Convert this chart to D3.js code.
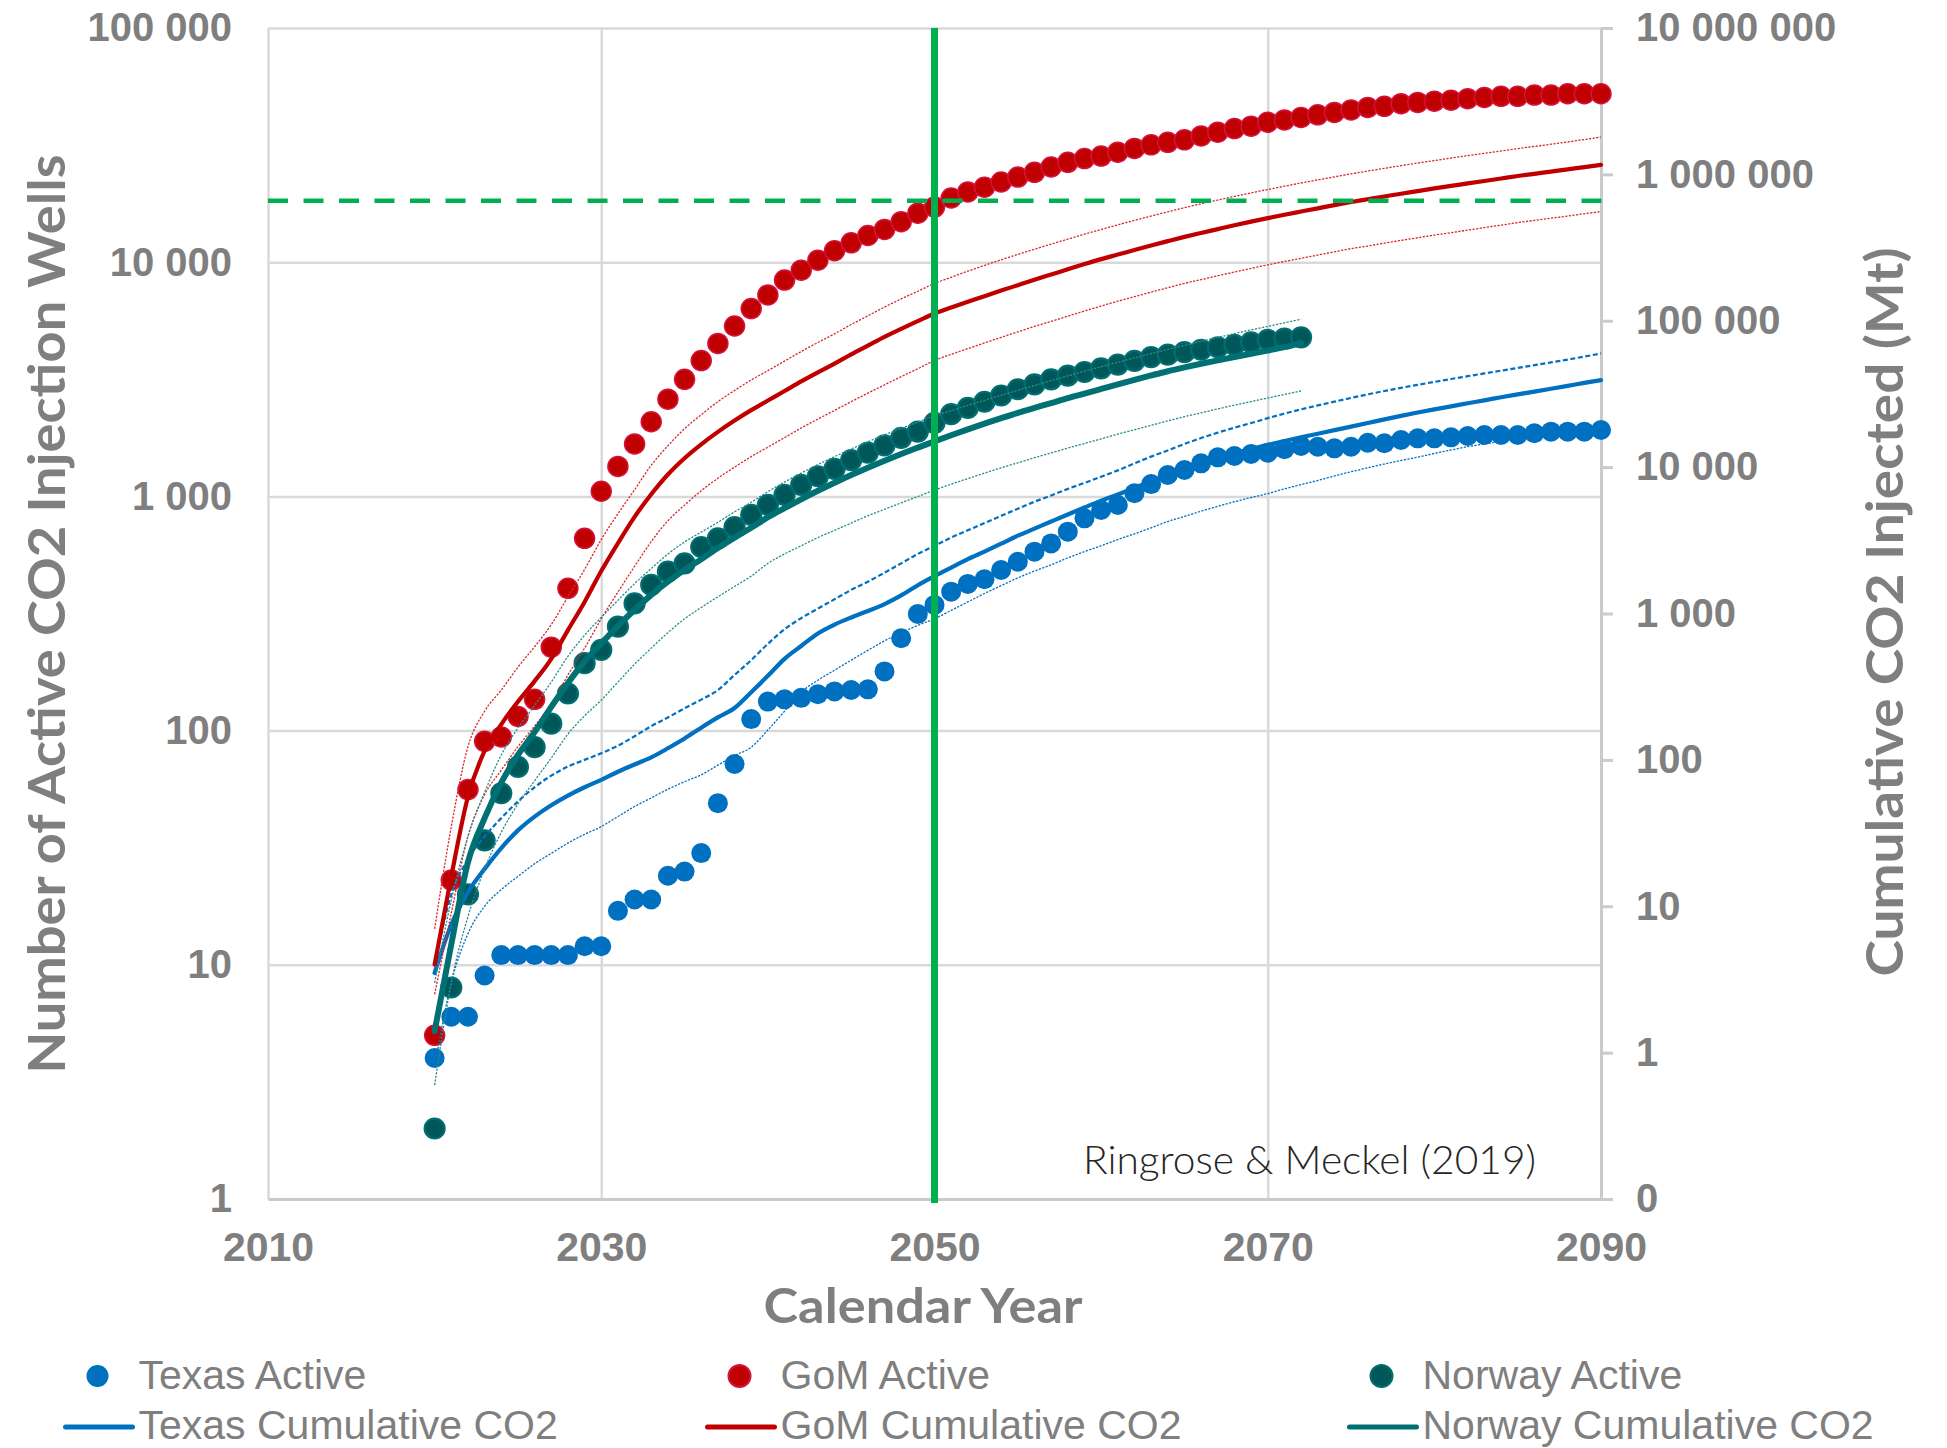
<!DOCTYPE html>
<html><head><meta charset="utf-8">
<script src="https://cdn.jsdelivr.net/npm/d3@7"></script>
<style>
html,body{margin:0;padding:0;background:#fff;overflow:hidden;}
svg{display:block;}
</style></head>
<body>
<svg id="chart" width="1947" height="1448"></svg>
<script>
// ---------------- DATA ----------------
const years = [2020,2021,2022,2023,2024,2025,2026,2027,2028,2029,2030,2031,2032,2033,2034,2035,2036,2037,2038,2039,2040,
2041,2042,2043,2044,2045,2046,2047,2048,2049,2050,2051,2052,2053,2054,2055,2056,2057,2058,2059,2060,
2061,2062,2063,2064,2065,2066,2067,2068,2069,2070,2071,2072,2073,2074,2075,2076,2077,2078,2079,2080,
2081,2082,2083,2084,2085,2086,2087,2088,2089,2090];
const norwayYears = years.slice(0, 53); // 2020-2072

// Active wells (left axis)
const texasActive = [4,6,6,9,11,11,11,11,11,12,12,17,19,19,24,25,30,49,72,112,133,136,138,143,147,149,150,179,248,315,344,
392,423,443,485,526,581,630,707,806,875,919,1031,1129,1234,1297,1384,1468,1488,1517,1537,1590,1643,1630,1604,1630,1695,1686,1741,1770,1770,
1787,1811,1829,1829,1829,1860,1890,1890,1890,1920];
const gomActive = [5,23,56,90,94,115,136,227,405,662,1052,1343,1675,2083,2600,3160,3800,4500,5340,6340,7250,
8390,9250,10200,11200,12100,13000,13800,14900,16200,17200,18800,19950,20900,22000,23100,24200,25500,26700,27700,28400,
29500,30600,31700,32500,33300,34600,35900,37200,38100,39600,40500,41500,42600,43600,44700,45800,46300,47500,48100,48700,
49200,49900,50500,51100,51100,51700,51700,52400,52400,52400];
const norwayActive = [2,8,20,34,54,70,85,107,144,194,221,278,349,419,477,518,608,662,739,834,920,
1015,1119,1219,1312,1429,1537,1652,1779,1891,2060,2244,2387,2536,2697,2867,3009,3160,3277,3397,3524,
3655,3791,3933,4029,4128,4229,4333,4439,4548,4660,4720,4780];

// Cumulative CO2 injected, Mt (right axis)
const texasCum = [3.5,7.5,12.5,18,25,33,41,49,57,65,73,83,93,104,120,140,166,195,226,290,375,
490,600,730,840,940,1040,1160,1330,1560,1800,2060,2350,2650,3000,3400,3800,4250,4750,5300,5900,
6500,7200,8000,8800,9700,10600,11500,12400,13300,14200,15100,16000,16900,17900,18900,20000,21200,22400,23600,24800,
26000,27300,28600,30000,31400,32800,34300,35900,37600,39300];
const texasCumHigh = [4,12,21,30,40,52,65,78,90,100,111,125,145,170,195,225,258,300,380,480,620,
780,930,1080,1250,1450,1650,1900,2200,2550,2900,3300,3700,4150,4650,5200,5800,6400,7100,7800,8600,
9500,10600,11800,13000,14400,15800,17200,18600,20000,21600,23200,24800,26400,28000,29700,31400,33100,34800,36500,38200,
40000,41800,43700,45600,47600,49700,51900,54300,56900,59800];
const texasCumLow = [0.8,3,6.5,10,13,16,19.5,23,27,31,35,41,48,55,63,71,79,92,107,122,160,
215,290,350,410,480,560,650,740,830,920,1050,1200,1370,1550,1750,1950,2150,2400,2650,2900,
3200,3500,3850,4250,4600,5000,5400,5800,6200,6600,7100,7600,8100,8700,9300,9900,10500,11100,11700,12400,
13100,13800,14400,15000,15600,16200,16800,17300,17900,18400];

const gomCum = [4,16,56,115,175,250,345,490,770,1200,1950,3020,4570,6530,8910,11500,14300,17400,20800,24500,28500,
33100,38500,44400,50900,58900,67600,77600,88100,99500,112200,123000,134900,147200,160700,175000,190500,207000,224900,243800,263600,
283100,304100,326600,349900,374100,398100,422700,448700,475300,502300,529700,557200,586100,616600,647100,676100,706300,737900,769100,801700,
833700,867000,901600,937600,975000,1009000,1045000,1081000,1122000,1161000];
const gomCumHigh = [7,35,123,215,300,430,593,840,1300,2000,3200,4800,7000,10300,14000,18300,22800,28000,33400,39400,45600,
53000,61600,71000,81400,94200,108000,124000,141000,159000,180000,198000,218000,239000,261000,284000,308000,334000,361000,390000,420000,
452000,485000,519000,555000,592000,630000,668000,707000,747000,788000,830000,873000,917000,962000,1008000,1054000,1100000,1147000,1195000,1243000,
1292000,1342000,1393000,1445000,1498000,1552000,1607000,1664000,1730000,1800000];
const gomCumLow = [2.5,9,30,58,85,123,170,240,380,580,920,1400,2100,3100,4300,5500,6900,8400,10000,11800,13700,
15900,18500,21300,24400,28000,32000,36500,41500,47000,53500,59000,64500,70500,77000,84000,91500,99000,107500,116500,126000,
136000,146000,157000,168000,180000,191000,203000,215000,228000,241000,254000,267000,281000,296000,311000,324000,339000,354000,369000,385000,
400000,416000,433000,450000,468000,485000,502000,519000,538000,557000];

const norwayCum = [1.4,5.5,20,40,70,108,155,230,335,470,625,820,1060,1340,1650,1990,2350,2800,3300,3850,4550,
5250,6030,6890,7820,8830,9910,11070,12300,13600,15000,16500,18100,19800,21600,23500,25400,27400,29600,31800,34200,
36800,39500,42300,45200,48000,50800,53600,56500,59500,62600,66000,70700];
const norwayCumHigh = [3,11,30,60,108,165,235,340,510,710,940,1230,1600,2030,2550,3080,3600,4200,4950,5750,6800,
7900,9100,10400,11800,13300,14900,16600,18400,20300,22400,24300,26400,28600,31000,33500,36100,39000,42000,45200,48500,
52000,55700,59600,63700,67900,72300,76900,81700,86500,91600,96800,102300];
const norwayCumLow = [0.6,3,8.5,18,32,50,72,103,150,200,256,340,450,580,740,920,1100,1300,1530,1800,2200,
2550,2900,3300,3700,4150,4650,5150,5700,6300,6970,7650,8350,9100,9900,10700,11600,12500,13500,14500,15600,
16800,18000,19300,20700,22100,23500,25000,26500,28000,29700,31400,33200];

// Reference lines
const milestoneYear = 2050;
const targetWells = 18300;

// Axes ticks & labels
const xTicks = [2010,2030,2050,2070,2090];
const xGrid = [2030,2050,2070];
const leftTicks = [1,10,100,1000,10000,100000];
const leftLabels = ["1","10","100","1 000","10 000","100 000"];
const rightTicks = [0.1,1,10,100,1000,10000,100000,1000000,10000000];
const rightLabels = ["0","1","10","100","1 000","10 000","100 000","1 000 000","10 000 000"];

const legendActive = ["Texas Active","GoM Active","Norway Active"];
const legendCum = ["Texas Cumulative CO2","GoM Cumulative CO2","Norway Cumulative CO2"];

const leftTitle = "Number of Active CO2 Injection Wells";
const rightTitle = "Cumulative CO2 Injected (Mt)";
const xTitle = "Calendar Year";
const sourceNote = "Ringrose & Meckel (2019)";

// ---------------- STYLE ----------------
const C = {
  texas: "#0070C0", gom: "#C00000", gomStroke: "#D4123C",
  norwayFill: "#00575A", norwayStroke: "#006E71", norwayLine: "#007073",
  norwayThin: "#2A8C8C", gomThin: "#D8282E",
  green: "#00B050", grid: "#D9D9D9", axis: "#CACACA", text: "#7F7F7F"
};
const M = {left:268, right:1601, top:28, bottom:1199};
const svg = d3.select("#chart");
const tickFont = "'Liberation Sans', Arial, sans-serif";
const titleFont = "Lato, 'Open Sans', sans-serif";

const x = d3.scaleLinear().domain([2010,2090]).range([M.left, M.right]);
const yL = d3.scaleLog().domain([1,100000]).range([M.bottom, M.top]);
const yR = d3.scaleLog().domain([0.1,1e7]).range([M.bottom, M.top]);

// gridlines
svg.append("g").attr("transform", `translate(0,${M.bottom})`)
  .call(d3.axisBottom(x).tickValues(xGrid).tickSize(-(M.bottom-M.top)).tickFormat(""))
  .call(g => g.select(".domain").remove())
  .call(g => g.selectAll("line").attr("stroke", C.grid).attr("stroke-width", 2.5));
svg.append("g").attr("transform", `translate(${M.left},0)`)
  .call(d3.axisLeft(yL).tickValues(leftTicks.slice(1)).tickSize(-(M.right-M.left)).tickFormat(""))
  .call(g => g.select(".domain").remove())
  .call(g => g.selectAll("line").attr("stroke", C.grid).attr("stroke-width", 2.5));

// left axis (labels only + axis line)
svg.append("g").attr("transform", `translate(${M.left},0)`)
  .call(d3.axisLeft(yL).tickValues(leftTicks).tickFormat((d,i)=>leftLabels[i]).tickSize(0).tickPadding(36))
  .call(g => g.select(".domain").attr("stroke", C.grid).attr("stroke-width", 2.5))
  .call(g => g.selectAll("text").attr("fill", C.text).attr("font-family", tickFont)
      .attr("font-weight", "bold").attr("font-size", 40));

// bottom axis
svg.append("g").attr("transform", `translate(0,${M.bottom})`)
  .call(d3.axisBottom(x).tickValues(xTicks).tickFormat(d=>String(d)).tickSize(0).tickPadding(33))
  .call(g => g.select(".domain").attr("stroke", C.axis).attr("stroke-width", 3))
  .call(g => g.selectAll("text").attr("fill", C.text).attr("font-family", tickFont)
      .attr("font-weight", "bold").attr("font-size", 41));

// right axis
svg.append("g").attr("transform", `translate(${M.right},0)`)
  .call(d3.axisRight(yR).tickValues(rightTicks).tickFormat((d,i)=>rightLabels[i]).tickSize(12).tickSizeOuter(0).tickPadding(23))
  .call(g => g.select(".domain").attr("stroke", C.axis).attr("stroke-width", 3))
  .call(g => g.selectAll(".tick line").attr("stroke", C.axis).attr("stroke-width", 3))
  .call(g => g.selectAll("text").attr("fill", C.text).attr("font-family", tickFont)
      .attr("font-weight", "bold").attr("font-size", 40));

// ---------------- MARKS ----------------
function dots(ys, vals, fill, stroke, sw) {
  svg.append("g").selectAll("circle").data(vals.map((v,i)=>({yr:ys[i], v})))
    .join("circle")
    .attr("cx", d=>x(d.yr)).attr("cy", d=>yL(d.v)).attr("r", 10)
    .attr("fill", fill).attr("stroke", stroke || "none").attr("stroke-width", sw || 0);
}
dots(years, texasActive, C.texas);
dots(years, gomActive, C.gom, C.gomStroke, 1.5);
dots(norwayYears, norwayActive, C.norwayFill, C.norwayStroke, 2.2);

const lineR = d3.line().x(d=>x(d.yr)).y(d=>yR(d.v)).curve(d3.curveMonotoneX);
function cumLine(ys, vals, color, width, dash) {
  svg.append("path").datum(vals.map((v,i)=>({yr:ys[i], v})))
    .attr("d", lineR).attr("fill", "none").attr("stroke", color)
    .attr("stroke-width", width).attr("stroke-dasharray", dash || null)
    .attr("stroke-linejoin", "round").attr("stroke-linecap", dash ? "butt" : "round");
}
cumLine(years, texasCumHigh, C.texas, 2.2, "5,2.6");
cumLine(years, texasCumLow, C.texas, 1.3, "2.2,1.4");
cumLine(years, texasCum, C.texas, 4.2);
cumLine(years, gomCumHigh, C.gomThin, 1.3, "2.2,1.4");
cumLine(years, gomCumLow, C.gomThin, 1.3, "2.2,1.4");
cumLine(years, gomCum, C.gom, 4.2);
cumLine(norwayYears, norwayCumHigh, C.norwayThin, 1.3, "2.2,1.4");
cumLine(norwayYears, norwayCumLow, C.norwayThin, 1.3, "2.2,1.4");
cumLine(norwayYears, norwayCum, C.norwayLine, 6);

// reference lines
svg.append("line").attr("x1", M.left).attr("x2", M.right + 9)
  .attr("y1", yL(targetWells)).attr("y2", yL(targetWells))
  .attr("stroke", C.green).attr("stroke-width", 4.5).attr("stroke-dasharray", "20,15.5");
svg.append("line").attr("x1", x(milestoneYear)).attr("x2", x(milestoneYear))
  .attr("y1", M.top).attr("y2", M.bottom + 4)
  .attr("stroke", C.green).attr("stroke-width", 7);

// source note
svg.append("text").attr("x", 1083).attr("y", 1174)
  .attr("font-family", titleFont).attr("font-weight", 300).attr("font-size", 40)
  .attr("fill", "#262626").attr("textLength", 453).attr("lengthAdjust", "spacingAndGlyphs")
  .text(sourceNote);

// axis titles
svg.append("text").attr("transform", "translate(65,614) rotate(-90)")
  .attr("text-anchor", "middle").attr("font-family", titleFont).attr("font-weight", "bold")
  .attr("font-size", 52).attr("fill", C.text)
  .attr("textLength", 919).attr("lengthAdjust", "spacingAndGlyphs").text(leftTitle);
svg.append("text").attr("transform", "translate(1903,612) rotate(-90)")
  .attr("text-anchor", "middle").attr("font-family", titleFont).attr("font-weight", "bold")
  .attr("font-size", 52).attr("fill", C.text)
  .attr("textLength", 729).attr("lengthAdjust", "spacingAndGlyphs").text(rightTitle);
svg.append("text").attr("x", 923).attr("y", 1323)
  .attr("text-anchor", "middle").attr("font-family", titleFont).attr("font-weight", "bold")
  .attr("font-size", 47).attr("fill", C.text)
  .attr("textLength", 319).attr("lengthAdjust", "spacingAndGlyphs").text(xTitle);

// legend
const legColors = [C.texas, C.gom, C.norwayFill];
const legStrokes = ["none", C.gomStroke, C.norwayStroke];
const legLineColors = [C.texas, C.gom, C.norwayLine];
const colX = [138.5, 780.5, 1422.5];
const lg = svg.append("g");
legendActive.forEach((name, i) => {
  lg.append("circle").attr("cx", colX[i] - 41).attr("cy", 1376).attr("r", 11)
    .attr("fill", legColors[i]).attr("stroke", legStrokes[i]).attr("stroke-width", 2);
  lg.append("text").attr("x", colX[i]).attr("y", 1389)
    .attr("font-family", tickFont).attr("font-size", 41).attr("fill", C.text).text(name);
});
legendCum.forEach((name, i) => {
  lg.append("line").attr("x1", colX[i] - 73).attr("x2", colX[i] - 6)
    .attr("y1", 1427).attr("y2", 1427).attr("stroke", legLineColors[i])
    .attr("stroke-width", 5).attr("stroke-linecap", "round");
  lg.append("text").attr("x", colX[i]).attr("y", 1439)
    .attr("font-family", tickFont).attr("font-size", 41).attr("fill", C.text).text(name);
});
</script>
</body></html>
